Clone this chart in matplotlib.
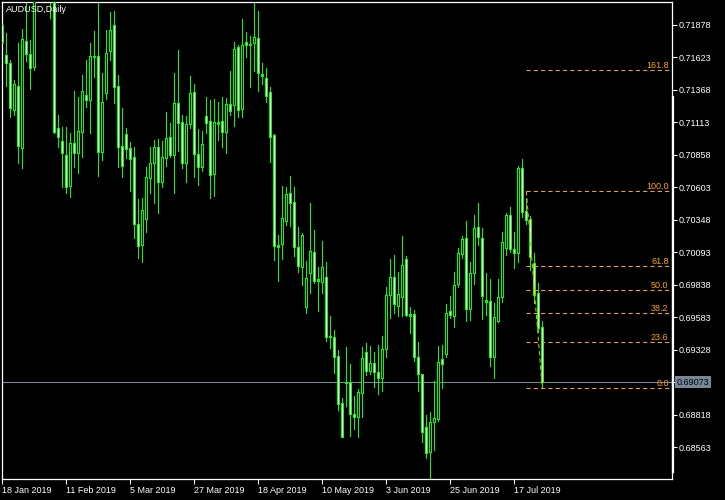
import matplotlib
matplotlib.use("Agg")
import matplotlib.pyplot as plt
import matplotlib.transforms as mtransforms

plt.rcParams['font.family'] = ['Liberation Sans', 'DejaVu Sans']

# AUDUSD daily bars, 18 Jan 2019 .. 26 Jul 2019
opens = [0.71874, 0.71639, 0.71574, 0.71207, 0.71398, 0.70907, 0.71746, 0.71644, 0.71547, 0.72230,
         0.72690, 0.72510, 0.72280, 0.72410, 0.71064, 0.70964, 0.70854, 0.70611, 0.70946, 0.70872,
         0.71037, 0.71325, 0.71286, 0.71631, 0.71631, 0.70880, 0.71343, 0.71672, 0.71872, 0.71395,
         0.70925, 0.71017, 0.70907, 0.70836, 0.70310, 0.70148, 0.70350, 0.70676, 0.70789, 0.70915,
         0.70645, 0.70828, 0.70993, 0.70854, 0.71260, 0.71111, 0.70789, 0.71095, 0.71346, 0.70860,
         0.70762, 0.71160, 0.71123, 0.70703, 0.71111, 0.71119, 0.71032, 0.71252, 0.71246, 0.71704,
         0.71213, 0.71743, 0.71723, 0.71735, 0.71770, 0.71490, 0.71456, 0.71346, 0.71011, 0.70148,
         0.70153, 0.70339, 0.70554, 0.70483, 0.70135, 0.69978, 0.69664, 0.69926, 0.70095, 0.69879,
         0.69860, 0.69899, 0.69434, 0.69424, 0.69279, 0.68906, 0.69068, 0.69075, 0.68822, 0.68796,
         0.68985, 0.69311, 0.69162, 0.69220, 0.69154, 0.69102, 0.69332, 0.69756, 0.69899, 0.69672,
         0.69742, 0.70036, 0.69604, 0.69604, 0.69272, 0.69133, 0.68722, 0.68521, 0.68757, 0.68783,
         0.69251, 0.69293, 0.69630, 0.69593, 0.69842, 0.70077, 0.70201, 0.69643, 0.69926, 0.70287,
         0.70201, 0.69716, 0.69709, 0.69267, 0.69554, 0.69738, 0.70122, 0.70383, 0.70114, 0.70083,
         0.70750, 0.70415, 0.70350, 0.70004, 0.69769, 0.69507]
highs = [0.71913, 0.71814, 0.71599, 0.71443, 0.71730, 0.71843, 0.72044, 0.71756, 0.72320, 0.72960,
         0.72800, 0.72600, 0.72950, 0.72440, 0.71168, 0.71076, 0.71076, 0.71024, 0.71359, 0.71312,
         0.71482, 0.71599, 0.71735, 0.71827, 0.72049, 0.71495, 0.71835, 0.71978, 0.71984, 0.71482,
         0.71221, 0.71068, 0.70958, 0.70915, 0.70509, 0.70514, 0.70762, 0.70919, 0.70972, 0.70977,
         0.70966, 0.71194, 0.71103, 0.71495, 0.71678, 0.71168, 0.71160, 0.71474, 0.71411, 0.71056,
         0.71042, 0.71307, 0.71286, 0.71293, 0.71272, 0.71312, 0.71304, 0.71516, 0.71743, 0.71717,
         0.71921, 0.71822, 0.71788, 0.72049, 0.71984, 0.71574, 0.71534, 0.71385, 0.71016, 0.70226,
         0.70611, 0.70601, 0.70689, 0.70601, 0.70287, 0.70244, 0.70022, 0.70475, 0.70266, 0.69973,
         0.70179, 0.70017, 0.69591, 0.69481, 0.69325, 0.68945, 0.69345, 0.69214, 0.68963, 0.69016,
         0.69345, 0.69381, 0.69356, 0.69311, 0.69364, 0.69434, 0.69821, 0.70036, 0.70069, 0.69938,
         0.70219, 0.70062, 0.69659, 0.69638, 0.69385, 0.69136, 0.68814, 0.68840, 0.69083, 0.69356,
         0.69364, 0.69685, 0.69750, 0.69938, 0.70122, 0.70219, 0.70336, 0.70017, 0.70383, 0.70480,
         0.70279, 0.69931, 0.69879, 0.69695, 0.69879, 0.70248, 0.70396, 0.70444, 0.70248, 0.70768,
         0.70823, 0.70514, 0.70375, 0.70083, 0.69847, 0.69552]
lows = [0.71704, 0.71395, 0.71150, 0.71168, 0.70794, 0.70750, 0.71594, 0.71370, 0.71521, 0.72150,
        0.72350, 0.72200, 0.71927, 0.71024, 0.70919, 0.70605, 0.70558, 0.70527, 0.70762, 0.70711,
        0.70841, 0.71233, 0.71024, 0.71468, 0.70689, 0.70815, 0.71291, 0.71599, 0.71264, 0.70762,
        0.70684, 0.70828, 0.70574, 0.70201, 0.70044, 0.70017, 0.70252, 0.70558, 0.70480, 0.70401,
        0.70605, 0.70770, 0.70841, 0.70558, 0.70888, 0.70750, 0.70645, 0.71064, 0.70679, 0.70619,
        0.70729, 0.71029, 0.70514, 0.70535, 0.70972, 0.70915, 0.70867, 0.71168, 0.71084, 0.71155,
        0.71150, 0.71625, 0.71385, 0.71516, 0.71359, 0.71411, 0.71272, 0.70802, 0.70031, 0.69868,
        0.70038, 0.70305, 0.70300, 0.70064, 0.69938, 0.69834, 0.69617, 0.69769, 0.69852, 0.69632,
        0.69774, 0.69397, 0.69337, 0.69141, 0.68854, 0.68639, 0.68885, 0.68649, 0.68702, 0.68639,
        0.68796, 0.69128, 0.69136, 0.69032, 0.68979, 0.69005, 0.69267, 0.69573, 0.69612, 0.69591,
        0.69591, 0.69591, 0.69460, 0.69240, 0.69005, 0.68605, 0.68479, 0.68317, 0.68540, 0.68769,
        0.69024, 0.69272, 0.69573, 0.69502, 0.69821, 0.70044, 0.69554, 0.69560, 0.69842, 0.70148,
        0.69565, 0.69599, 0.69199, 0.69102, 0.69546, 0.69703, 0.70069, 0.70093, 0.69965, 0.70015,
        0.70370, 0.70310, 0.69952, 0.69691, 0.69468, 0.69024]
closes = [0.71741, 0.71574, 0.71221, 0.71409, 0.70927, 0.71762, 0.71647, 0.71534, 0.72230, 0.72690,
          0.72510, 0.72300, 0.72410, 0.71037, 0.70998, 0.70872, 0.70601, 0.70946, 0.70872, 0.71042,
          0.71356, 0.71286, 0.71631, 0.71621, 0.70880, 0.71268, 0.71652, 0.71835, 0.71385, 0.70919,
          0.70770, 0.70899, 0.70820, 0.70310, 0.70140, 0.70423, 0.70679, 0.70789, 0.70915, 0.70645,
          0.70836, 0.70985, 0.70854, 0.71260, 0.71108, 0.70789, 0.71095, 0.71338, 0.70860, 0.70762,
          0.70938, 0.71103, 0.70697, 0.71115, 0.71097, 0.71032, 0.71252, 0.71202, 0.71683, 0.71207,
          0.71717, 0.71717, 0.71715, 0.71778, 0.71495, 0.71476, 0.71319, 0.70998, 0.70140, 0.70130,
          0.70357, 0.70548, 0.70475, 0.70130, 0.69986, 0.70226, 0.69887, 0.70103, 0.69868, 0.69868,
          0.69973, 0.69424, 0.69424, 0.69267, 0.68900, 0.68644, 0.69063, 0.68820, 0.68796, 0.68992,
          0.69259, 0.69162, 0.69224, 0.69154, 0.69102, 0.69332, 0.69756, 0.69899, 0.69685, 0.69761,
          0.69991, 0.69599, 0.69593, 0.69272, 0.69133, 0.68683, 0.68514, 0.68757, 0.68788, 0.69228,
          0.69212, 0.69612, 0.69599, 0.69834, 0.70083, 0.70193, 0.69643, 0.69926, 0.70279, 0.70208,
          0.69750, 0.69703, 0.69267, 0.69581, 0.69738, 0.70174, 0.70383, 0.70114, 0.70088, 0.70750,
          0.70409, 0.70344, 0.70056, 0.69756, 0.69494, 0.69073]

date_ticks = [0, 16, 32, 48, 64, 80, 96, 112, 128]
date_labels = ['18 Jan 2019', '11 Feb 2019', '5 Mar 2019', '27 Mar 2019', '18 Apr 2019',
               '10 May 2019', '3 Jun 2019', '25 Jun 2019', '17 Jul 2019']
price_ticks = [0.71878, 0.71623, 0.71368, 0.71113, 0.70858, 0.70603, 0.70348, 0.70093,
               0.69838, 0.69583, 0.69328, 0.69073, 0.68818, 0.68563]

# fibonacci retracement drawn on the last swing
fib_start, fib_end = 131, 135
fib_high, fib_low = 0.70570, 0.69026
fib_levels = [0.0, 23.6, 38.2, 50.0, 61.8, 100.0, 161.8]

current_price = 0.69073

green = '#00ff00'
orange = '#ffa500'
slate = '#778899'

fig = plt.figure(figsize=(7.25, 5), dpi=100, facecolor='black')
ax = fig.add_axes([2 / 725, 21 / 500, 670 / 725, 477 / 500])
ax.set_facecolor('black')
ax.set_xlim(-0.075, 167.425)
ax.set_ylim(0.68312, 0.72055)
price_trans = mtransforms.blended_transform_factory(ax.transAxes, ax.transData)

# one screen pixel in price units, used to inset the body fill
ylo, yhi = ax.get_ylim()
px = (yhi - ylo) / (ax.get_position().height * fig.get_figheight() * fig.dpi)

n = len(opens)
xs = list(range(n))

# current price line under the candles
ax.axhline(current_price, color=slate, lw=0.75, zorder=1)

# wicks
ax.vlines(xs, lows, highs, color=green, lw=0.72, zorder=2, antialiased=False)

# bodies: green 3px outline, fill black = up day, white = down day
body_lo = [min(o, c) for o, c in zip(opens, closes)]
body_hi = [max(max(o, c), min(o, c) + px) for o, c in zip(opens, closes)]
ax.vlines(xs, body_lo, body_hi, color=green, lw=2.16, zorder=3, antialiased=False)

fill_x, fill_lo, fill_hi, fill_c = [], [], [], []
for x, o, c, lo, hi in zip(xs, opens, closes, body_lo, body_hi):
    if hi - lo > 2.5 * px:
        fill_x.append(x)
        fill_lo.append(lo + px)
        fill_hi.append(hi - px)
        fill_c.append('black' if c > o else 'white')
ax.vlines(fill_x, fill_lo, fill_hi, colors=fill_c, lw=0.72, zorder=4, antialiased=False)

# fibo levels
span = fib_high - fib_low
for lvl in fib_levels:
    p = fib_low + span * lvl / 100
    ax.plot([fib_start, 170], [p, p], color=orange, lw=0.75, ls=(0, (4, 3)), zorder=5)
    ax.text(0.995, p, '%.1f' % lvl, transform=price_trans, ha='right', va='bottom',
            color=orange, fontsize=6.5, zorder=6)
ax.plot([fib_start, fib_end], [fib_high, fib_low], color=orange, lw=0.75,
        ls=(0, (4, 3)), zorder=5)

for side in ['left', 'right', 'top', 'bottom']:
    ax.spines[side].set_color('white')
    ax.spines[side].set_linewidth(0.9)

ax.yaxis.tick_right()
ax.set_yticks(price_ticks)
ax.set_yticklabels(['' if t == current_price else '%.5f' % t for t in price_ticks])
ax.tick_params(axis='y', colors='white', length=3.5, width=0.75, pad=1, labelsize=6.5)

ax.set_xticks(date_ticks)
ax.set_xticklabels(date_labels, ha='left')
ax.tick_params(axis='x', colors='white', length=3.5, width=0.75, pad=1.5, labelsize=6.5)

# thicker part of the right border
ax.plot([1.0008, 1.0008], [0.0126, 0.803], transform=ax.transAxes, color='white',
        lw=1.6, clip_on=False, solid_capstyle='butt', zorder=7)

# price label on the scale
ax.annotate('%.5f' % current_price, xy=(1, current_price), xycoords=price_trans,
            xytext=(3.5, 0), textcoords='offset points', ha='left', va='center',
            fontsize=6.5, color='black', annotation_clip=False, zorder=10,
            bbox=dict(boxstyle='square,pad=0.2', fc=slate, ec='none'))

fig.text(6 / 725, 1 - 10 / 500, 'AUDUSD,Daily', color='white', fontsize=6.5, va='center')

fig.savefig('out.png', dpi=100, facecolor='black')
